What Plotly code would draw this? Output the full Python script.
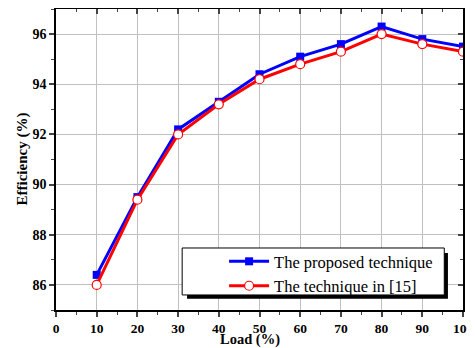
import plotly.graph_objects as go

load = [10, 20, 30, 40, 50, 60, 70, 80, 90, 100]
proposed = [86.4, 89.5, 92.2, 93.3, 94.4, 95.1, 95.6, 96.3, 95.8, 95.5]
ref15 = [86.0, 89.4, 92.0, 93.2, 94.2, 94.8, 95.3, 96.0, 95.6, 95.3]
x_ticks = [0, 10, 20, 30, 40, 50, 60, 70, 80, 90, 100]
y_ticks = [86, 88, 90, 92, 94, 96]

FONT = "Liberation Serif"

fig = go.Figure()
fig.add_trace(go.Scatter(
    x=load, y=proposed, mode="lines+markers", name="The proposed technique",
    line=dict(color="#0000ff", width=3),
    marker=dict(symbol="square", size=8, color="#0000ff"),
))
fig.add_trace(go.Scatter(
    x=load, y=ref15, mode="lines+markers", name="The technique in [15]",
    line=dict(color="#ff0000", width=3),
    marker=dict(symbol="circle", size=9, color="white", line=dict(color="#ff0000", width=1.2)),
))

axis_common = dict(showline=True, linecolor="black", linewidth=1.5, automargin=False,
                   showgrid=True, gridcolor="#c0c0c0", gridwidth=1, zeroline=False,
                   ticklabeloverflow="allow")

# page body has an 8px margin, so the figure is sized/offset to compensate
fig.update_layout(
    width=467, height=340,
    margin=dict(l=48, r=12, t=1, b=38),
    paper_bgcolor="white", plot_bgcolor="white",
    font=dict(family=FONT, color="black"),
    showlegend=True,
    xaxis=dict(range=[0, 100], tickvals=x_ticks, ticks="outside", ticklen=5, tickwidth=1.5,
               tickfont=dict(size=13.5, family=FONT, weight="bold"),
               minor=dict(dtick=5, ticks="outside", ticklen=3, tickwidth=1.2, showgrid=False),
               **axis_common),
    yaxis=dict(range=[85, 97], tickvals=y_ticks, ticks="outside", ticklen=5, tickwidth=1.5,
               tickfont=dict(size=14, family=FONT, weight="bold"),
               minor=dict(dtick=1, ticks="outside", ticklen=3, tickwidth=1.2, showgrid=False),
               **axis_common),
    xaxis2=dict(range=[0, 100], overlaying="x", side="top", tickvals=x_ticks, ticks="inside",
                ticklen=5, tickwidth=1.5, showticklabels=False, showgrid=False, zeroline=False,
                showline=True, linecolor="black", linewidth=1.5, automargin=False,
                minor=dict(dtick=5, ticks="inside", ticklen=3, tickwidth=1.2)),
    yaxis2=dict(range=[85, 97], overlaying="y", side="right", tickvals=y_ticks, ticks="inside",
                ticklen=5, tickwidth=1.5, showticklabels=False, showgrid=False, zeroline=False,
                showline=True, linecolor="black", linewidth=1.5, automargin=False,
                minor=dict(dtick=1, ticks="inside", ticklen=3, tickwidth=1.2)),
    legend=dict(x=0.413, y=0.219, xanchor="left", yanchor="top", bgcolor="rgba(0,0,0,0)",
                borderwidth=0, font=dict(size=16.5, family=FONT), tracegroupgap=0,
                itemwidth=40),
    shapes=[
        dict(type="rect", xref="paper", yref="paper", x0=0.322, x1=0.963, y0=0.037, y1=0.189,
             fillcolor="black", line=dict(width=0), layer="above"),
        dict(type="rect", xref="paper", yref="paper", x0=0.310, x1=0.954, y0=0.050, y1=0.206,
             fillcolor="white", line=dict(color="black", width=1), layer="above"),
    ],
    annotations=[
        dict(text="<b>Load (%)</b>", xref="paper", yref="paper", x=(250 - 56) / 407,
             y=-(339 - 310) / 301, xanchor="center", yanchor="middle", showarrow=False,
             font=dict(size=14.5, family=FONT)),
        dict(text="<b>Efficiency (%)</b>", xref="paper", yref="paper", x=-(56 - 22) / 407,
             y=0.5, xanchor="center", yanchor="middle", showarrow=False, textangle=-90,
             font=dict(size=15, family=FONT)),
    ],
)
fig.add_trace(go.Scatter(x=[None], y=[None], xaxis="x2", yaxis="y2", showlegend=False, hoverinfo="skip"))

fig.write_html("out.html")
